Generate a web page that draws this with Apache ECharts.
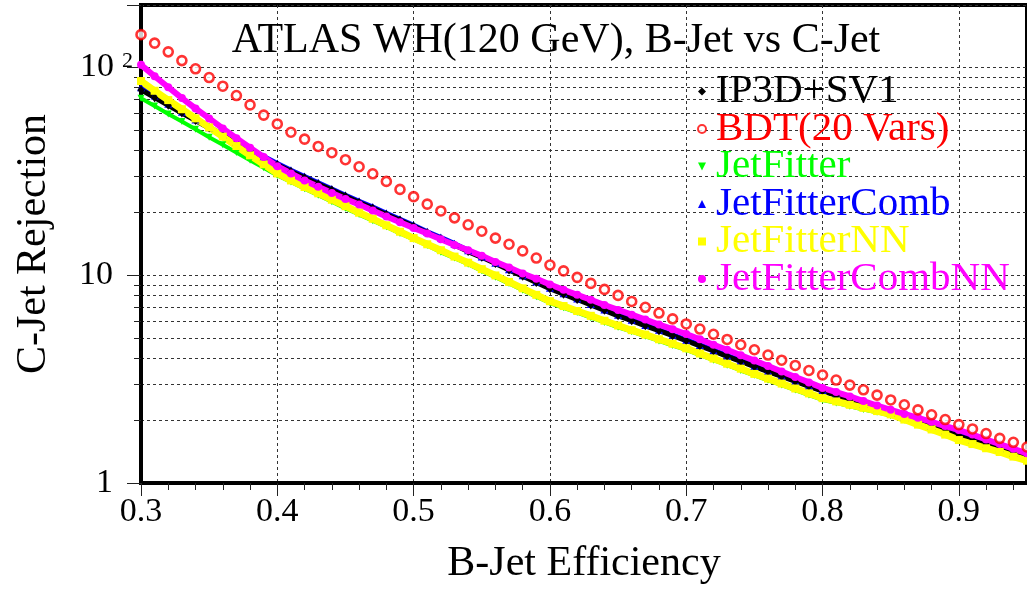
<!DOCTYPE html>
<html>
<head>
<meta charset="utf-8">
<title>B-Jet vs C-Jet rejection</title>
<script src="https://cdn.jsdelivr.net/npm/echarts@6/dist/echarts.min.js"></script>
<style>
  html, body { margin: 0; padding: 0; background: #ffffff; }
  #chart { width: 1027px; height: 590px; }
</style>
</head>
<body>
<div id="chart"></div>
<script>
// B-jet efficiency working points (x) shared by all taggers
const efficiency = [
  0.30, 0.31, 0.32, 0.33, 0.34, 0.35, 0.36, 0.37, 0.38, 0.39,
  0.40, 0.41, 0.42, 0.43, 0.44, 0.45, 0.46, 0.47, 0.48, 0.49,
  0.50, 0.51, 0.52, 0.53, 0.54, 0.55, 0.56, 0.57, 0.58, 0.59,
  0.60, 0.61, 0.62, 0.63, 0.64, 0.65, 0.66, 0.67, 0.68, 0.69,
  0.70, 0.71, 0.72, 0.73, 0.74, 0.75, 0.76, 0.77, 0.78, 0.79,
  0.80, 0.81, 0.82, 0.83, 0.84, 0.85, 0.86, 0.87, 0.88, 0.89,
  0.90, 0.91, 0.92, 0.93, 0.94, 0.95
];

// C-jet rejection for each tagger
const ip3dSv1 = [
  78.0, 71.6, 65.8, 60.4, 55.6, 51.1, 47.0, 43.4, 40.0, 36.8,
  34.0, 31.6, 29.5, 27.5, 25.7, 24.0, 22.4, 21.0, 19.6, 18.4,
  17.2, 16.0, 15.0, 14.0, 13.0, 12.2, 11.4, 10.6, 9.89, 9.23,
  8.61, 8.11, 7.64, 7.19, 6.78, 6.38, 6.04, 5.71, 5.41, 5.12,
  4.84, 4.57, 4.32, 4.07, 3.85, 3.63, 3.44, 3.26, 3.08, 2.92,
  2.77, 2.64, 2.51, 2.39, 2.27, 2.16, 2.06, 1.95, 1.86, 1.77,
  1.68, 1.60, 1.53, 1.46, 1.40, 1.33
];
const bdt20Vars = [
  144, 131, 119, 108, 98.6, 89.5, 81.3, 73.3, 66.1, 59.0,
  53.5, 48.8, 45.2, 41.7, 38.9, 36.0, 33.3, 30.8, 28.3, 25.9,
  23.9, 22.0, 20.4, 18.9, 17.5, 16.3, 15.1, 14.1, 13.1, 12.1,
  11.2, 10.5, 9.77, 9.14, 8.55, 8.00, 7.48, 7.01, 6.58, 6.17,
  5.83, 5.51, 5.20, 4.91, 4.63, 4.38, 4.13, 3.90, 3.68, 3.48,
  3.31, 3.13, 2.96, 2.81, 2.65, 2.51, 2.38, 2.25, 2.13, 2.02,
  1.91, 1.82, 1.73, 1.64, 1.57, 1.49
];
const jetFitter = [
  71.1, 65.3, 59.8, 55.0, 50.4, 46.2, 42.5, 39.0, 35.8, 32.9,
  30.2, 28.1, 26.1, 24.3, 22.6, 21.0, 19.6, 18.3, 17.1, 15.9,
  14.9, 13.9, 12.9, 12.1, 11.3, 10.5, 9.79, 9.12, 8.47, 7.89,
  7.35, 6.97, 6.61, 6.25, 5.93, 5.62, 5.35, 5.08, 4.83, 4.59,
  4.37, 4.13, 3.90, 3.69, 3.48, 3.30, 3.12, 2.96, 2.80, 2.65,
  2.51, 2.43, 2.34, 2.26, 2.19, 2.11, 2.01, 1.92, 1.83
];
const jetFitterComb = [
  80.4, 73.4, 67.0, 61.2, 56.2, 51.6, 47.6, 43.9, 40.5, 37.3,
  34.5, 32.0, 29.9, 27.9, 26.0, 24.3, 22.7, 21.3, 19.9, 18.6,
  17.4, 16.2, 15.2, 14.2, 13.2, 12.3, 11.5, 10.7, 10.0, 9.33,
  8.71, 8.20, 7.72, 7.27, 6.85, 6.45, 6.10, 5.77, 5.46, 5.17,
  4.89, 4.62, 4.36, 4.11, 3.89, 3.67, 3.47, 3.29, 3.11, 2.95,
  2.80, 2.66, 2.53, 2.41, 2.29, 2.18, 2.07, 1.97, 1.88, 1.79,
  1.70, 1.62, 1.54, 1.47, 1.40, 1.33
];
const jetFitterNN = [
  86.1, 77.3, 69.7, 63.0, 56.9, 51.5, 46.5, 41.9, 37.8, 34.2,
  30.9, 28.6, 26.6, 24.8, 23.1, 21.5, 20.0, 18.7, 17.4, 16.2,
  15.1, 14.1, 13.2, 12.3, 11.5, 10.7, 9.98, 9.29, 8.65, 8.05,
  7.50, 7.11, 6.73, 6.38, 6.04, 5.73, 5.44, 5.18, 4.92, 4.68,
  4.45, 4.20, 3.97, 3.75, 3.55, 3.35, 3.18, 3.01, 2.85, 2.70,
  2.56, 2.47, 2.38, 2.30, 2.22, 2.14, 2.02, 1.91, 1.81, 1.71,
  1.61, 1.54, 1.47, 1.41, 1.34, 1.28
];
const jetFitterCombNN = [
  103, 90.8, 80.4, 71.3, 63.5, 56.9, 50.9, 45.7, 41.1, 37.1,
  33.5, 30.9, 28.6, 26.7, 24.9, 23.3, 21.9, 20.5, 19.2, 18.0,
  16.9, 15.9, 14.9, 14.0, 13.2, 12.4, 11.6, 10.9, 10.2, 9.62,
  9.02, 8.51, 8.05, 7.62, 7.19, 6.81, 6.46, 6.12, 5.79, 5.50,
  5.21, 4.92, 4.63, 4.38, 4.12, 3.89, 3.66, 3.44, 3.24, 3.05,
  2.87, 2.74, 2.61, 2.48, 2.36, 2.25, 2.15, 2.06, 1.97, 1.88,
  1.80, 1.71, 1.62, 1.54, 1.46, 1.39
];

// Axis ranges and tick labels
const xRange = [0.3, 0.95];
const yRange = [1, 200];
const yTickText = { 1: '{n|1}{p| }', 10: '{n|10}{p| }', 100: '{n|10}{s|2}' };

const serif = "'Liberation Serif', 'DejaVu Serif', serif";
const gridDash = { color: '#333333', type: [3, 3], width: 1 };

function pairs(values) {
  return values.map(function (v, i) { return [efficiency[i], v]; });
}

const chart = echarts.init(document.getElementById('chart'), null, { renderer: 'canvas' });

chart.setOption({
  animation: false,
  backgroundColor: '#ffffff',
  title: {
    text: 'ATLAS WH(120 GeV), B-Jet vs C-Jet',
    left: 556,
    top: 20,
    padding: 0,
    textAlign: 'center',
    textStyle: { fontFamily: serif, fontSize: 42, fontWeight: 'normal', color: '#000000' }
  },
  legend: {
    orient: 'vertical',
    left: 697,
    top: 71,
    padding: 0,
    itemWidth: 8,
    itemHeight: 8,
    itemGap: -3.5,
    symbolKeepAspect: true,
    selectedMode: false,
    textStyle: { fontFamily: serif, fontSize: 41, padding: [0, 0, 0, 5] },
    data: [
      { name: 'IP3D+SV1', icon: 'diamond', textStyle: { color: '#000000' },
        itemStyle: { color: '#000000' } },
      { name: 'BDT(20 Vars)', icon: 'circle', textStyle: { color: '#ff0000' },
        itemStyle: { color: '#ffffff', borderColor: '#ff0000', borderWidth: 2 } },
      { name: 'JetFitter', icon: 'path://M0,0L10,0L5,10Z', textStyle: { color: '#00ff00' },
        itemStyle: { color: '#00ff00' } },
      { name: 'JetFitterComb', icon: 'triangle', textStyle: { color: '#0000ff' },
        itemStyle: { color: '#0000ff' } },
      { name: 'JetFitterNN', icon: 'rect', textStyle: { color: '#ffff00' },
        itemStyle: { color: '#ffff00' } },
      { name: 'JetFitterCombNN', icon: 'circle', textStyle: { color: '#ff00ff' },
        itemStyle: { color: '#ff00ff' } }
    ]
  },
  grid: {
    left: 141, right: 0, top: 5, bottom: 103,
    show: true, borderColor: '#000000', borderWidth: 4, backgroundColor: 'transparent'
  },
  xAxis: {
    type: 'value',
    min: xRange[0], max: xRange[1], interval: 0.1,
    name: 'B-Jet Efficiency',
    nameLocation: 'middle',
    nameGap: 60,
    nameTextStyle: { fontFamily: serif, fontSize: 42, color: '#000000' },
    axisLine: { show: true, onZero: false, lineStyle: { color: '#000000', width: 4 } },
    axisTick: { show: true, length: 13, lineStyle: { color: '#222222', width: 1 } },
    minorTick: { show: true, splitNumber: 5, length: 7, lineStyle: { color: '#222222', width: 1 } },
    splitLine: { show: true, lineStyle: gridDash },
    axisLabel: {
      fontFamily: serif, fontSize: 34, color: '#000000', margin: 12,
      showMaxLabel: false,
      formatter: function (v) { return v.toFixed(1); }
    }
  },
  yAxis: {
    type: 'log', logBase: 10,
    min: yRange[0], max: yRange[1],
    name: 'C-Jet Rejection',
    nameLocation: 'middle',
    nameGap: 86,
    nameRotate: 90,
    nameTextStyle: { fontFamily: serif, fontSize: 42, color: '#000000' },
    axisLine: { show: true, lineStyle: { color: '#000000', width: 4 } },
    axisTick: { show: true, length: 14, lineStyle: { color: '#222222', width: 1 } },
    minorTick: { show: true, splitNumber: 9, length: 7, lineStyle: { color: '#222222', width: 1 } },
    splitLine: { show: true, lineStyle: gridDash },
    minorSplitLine: { show: true, lineStyle: gridDash },
    axisLabel: {
      margin: 8,
      showMaxLabel: false,
      formatter: function (v) { return yTickText[v] || ''; },
      rich: {
        n: { fontFamily: serif, fontSize: 34, color: '#000000' },
        p: { fontFamily: serif, fontSize: 22, width: 20 },
        s: { fontFamily: serif, fontSize: 22, color: '#000000', padding: [0, 0, 0, 8], verticalAlign: 'top' }
      }
    }
  },
  series: [
    {
      name: 'BDT(20 Vars)', type: 'scatter',
      data: pairs(bdt20Vars),
      symbol: 'circle', symbolSize: 9,
      itemStyle: { color: '#ffffff', borderColor: '#ff0000', borderWidth: 2.6 },
      z: 3
    },
    {
      name: 'JetFitter', type: 'line',
      data: pairs(jetFitter),
      symbol: 'triangle', symbolRotate: 180, symbolSize: 7, showAllSymbol: true,
      itemStyle: { color: '#00ff00' },
      lineStyle: { color: '#00ff00', width: 4 },
      z: 2
    },
    {
      name: 'JetFitterComb', type: 'line',
      data: pairs(jetFitterComb),
      symbol: 'triangle', symbolSize: 8, showAllSymbol: true,
      itemStyle: { color: '#0000ff' },
      lineStyle: { color: '#0000ff', width: 5 },
      z: 2
    },
    {
      name: 'IP3D+SV1', type: 'line',
      data: pairs(ip3dSv1),
      symbol: 'diamond', symbolSize: [7, 9], showAllSymbol: true,
      itemStyle: { color: '#000000' },
      lineStyle: { color: '#000000', width: 5 },
      z: 2
    },
    {
      name: 'JetFitterNN', type: 'line',
      data: pairs(jetFitterNN),
      symbol: 'rect', symbolSize: 8, showAllSymbol: true,
      itemStyle: { color: '#ffff00' },
      lineStyle: { color: '#ffff00', width: 7 },
      z: 2
    },
    {
      name: 'JetFitterCombNN', type: 'line',
      data: pairs(jetFitterCombNN),
      symbol: 'circle', symbolSize: 8, showAllSymbol: true,
      itemStyle: { color: '#ff00ff' },
      lineStyle: { color: '#ff00ff', width: 6 },
      z: 2
    }
  ]
});
</script>
</body>
</html>
